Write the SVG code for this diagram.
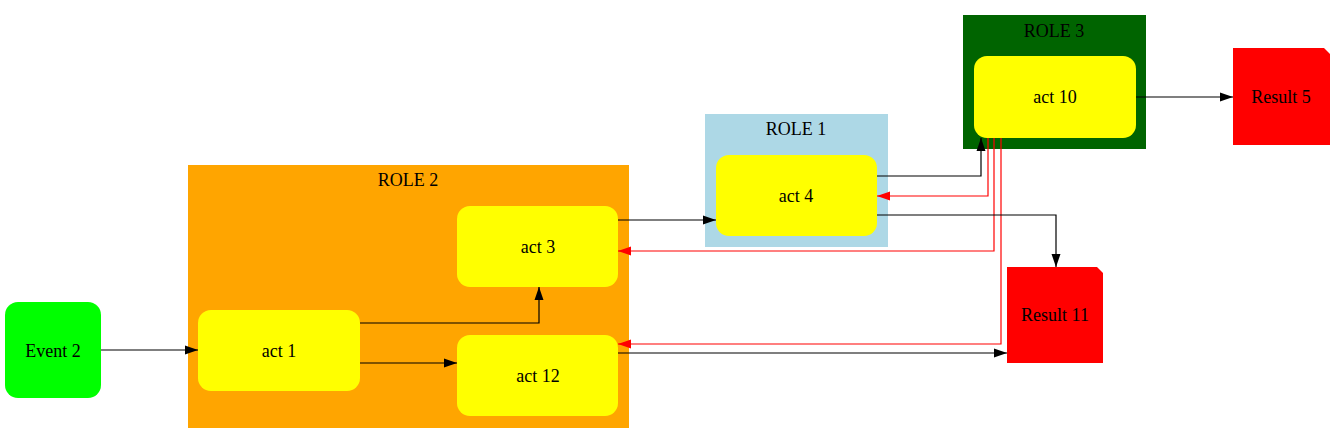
<svg xmlns="http://www.w3.org/2000/svg" width="1335" height="444" viewBox="0 0 1335 444">
<style>
text{font-family:"Liberation Serif","Times New Roman",serif;font-size:18px;fill:#000;text-anchor:middle;dominant-baseline:central}
.act{fill:#ffff00}
.e{fill:none;stroke:#000;stroke-width:1.2}
.r{fill:none;stroke:#ff0000;stroke-width:1.2}
</style>
<defs>
<marker id="ab" markerWidth="13" markerHeight="10" refX="13" refY="5" orient="auto" markerUnits="userSpaceOnUse"><path d="M0,0.5 L13,5 L0,9.5 Z" fill="#000"/></marker>
<marker id="ar" markerWidth="13" markerHeight="10" refX="13" refY="5" orient="auto" markerUnits="userSpaceOnUse"><path d="M0,0.5 L13,5 L0,9.5 Z" fill="#ff0000"/></marker>
</defs>
<rect width="1335" height="444" fill="#fff"/>
<g id="role2"><rect x="188" y="165" width="441" height="263" fill="#ffa500"/><text x="408" y="180">ROLE 2</text></g>
<g id="role1"><rect x="705" y="114" width="183" height="133" fill="#add8e6"/><text x="796" y="129">ROLE 1</text></g>
<g id="role3"><rect x="963" y="15" width="183" height="134" fill="#006400"/><text x="1054" y="31">ROLE 3</text></g>
<g id="connectors">
<path class="e" d="M101,350 H198" marker-end="url(#ab)"/>
<path class="e" d="M360,323 H539 V287" marker-end="url(#ab)"/>
<path class="e" d="M360,363 H457" marker-end="url(#ab)"/>
<path class="e" d="M618,220 H716" marker-end="url(#ab)"/>
<path class="e" d="M877,176 H981 V138" marker-end="url(#ab)"/>
<path class="r" d="M988,138 V196 H877" marker-end="url(#ar)"/>
<path class="r" d="M994,138 V251 H618" marker-end="url(#ar)"/>
<path class="r" d="M1001,138 V344 H618" marker-end="url(#ar)"/>
<path class="e" d="M877,215 H1056 V267" marker-end="url(#ab)"/>
<path class="e" d="M618,353 H1007" marker-end="url(#ab)"/>
<path class="e" d="M1136,97 H1233" marker-end="url(#ab)"/>
</g>
<g id="event2"><rect x="5" y="302" width="96" height="96" rx="13" fill="#00ff00"/><text x="53" y="351">Event 2</text></g>
<g id="act1"><rect class="act" x="198" y="310" width="162" height="81" rx="13"/><text x="279" y="351">act 1</text></g>
<g id="act3"><rect class="act" x="457" y="206" width="161" height="81" rx="13"/><text x="538" y="247">act 3</text></g>
<g id="act12"><rect class="act" x="457" y="335" width="161" height="81" rx="13"/><text x="538" y="376">act 12</text></g>
<g id="act4"><rect class="act" x="716" y="155" width="161" height="81" rx="13"/><text x="796" y="196">act 4</text></g>
<g id="act10"><rect class="act" x="974" y="56" width="162" height="82" rx="13"/><text x="1055" y="97">act 10</text></g>
<g id="result5"><path d="M1233,48 H1324 L1330,54 V145 H1233 Z" fill="#ff0000"/><text x="1281" y="97">Result 5</text></g>
<g id="result11"><path d="M1007,267 H1097 L1103,273 V363 H1007 Z" fill="#ff0000"/><text x="1055" y="315">Result 11</text></g>
</svg>
